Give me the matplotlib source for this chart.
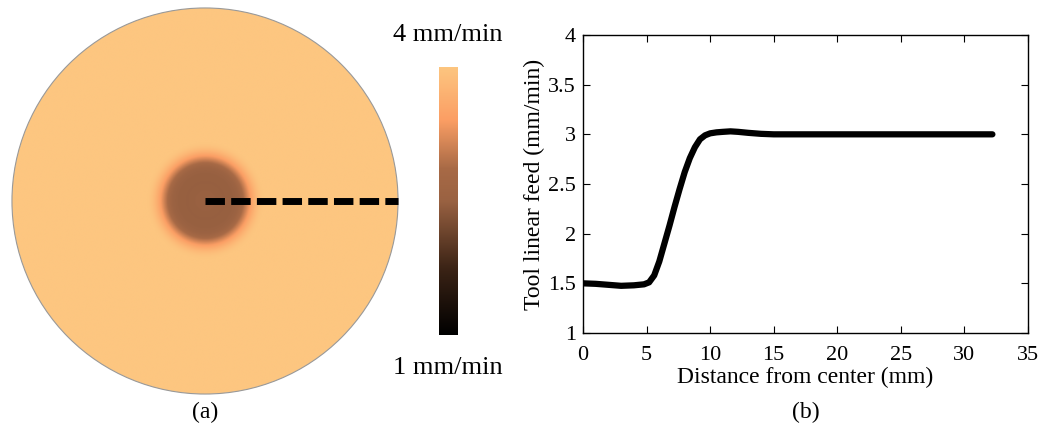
import numpy as np
import matplotlib
matplotlib.use("Agg")
import matplotlib.pyplot as plt
from matplotlib.colors import LinearSegmentedColormap, Normalize
from matplotlib.patches import Circle

plt.rcParams['font.family'] = ['Liberation Serif', 'DejaVu Serif']

# feed profile along the radius (mm -> mm/min)
dist = [0, 1, 2, 3, 4, 4.8, 5.2, 5.6, 6.0, 6.4, 6.8, 7.2, 7.6, 8.0, 8.4, 8.8,
        9.2, 9.6, 10.0, 10.5, 11.0, 11.6, 12.2, 13.0, 14.0, 15.0, 20.0, 25.0, 32.2]
feed = [1.50, 1.495, 1.485, 1.475, 1.48, 1.49, 1.51, 1.58, 1.72, 1.90, 2.08, 2.27,
        2.45, 2.62, 2.76, 2.87, 2.95, 2.99, 3.01, 3.02, 3.025, 3.03, 3.025, 3.015,
        3.005, 3.0, 3.0, 3.0, 3.0]
x_ticks = [0, 5, 10, 15, 20, 25, 30, 35]
y_ticks = [1, 1.5, 2, 2.5, 3, 3.5, 4]
y_ticklabels = ['1', '1.5', '2', '2.5', '3', '3.5', '4']
cbar_min, cbar_max = 1, 4

cmap = LinearSegmentedColormap.from_list(
    'feed', [(0.0, '#000000'), (0.25, '#3c2416'), (0.5, '#9a6242'),
             (0.62, '#a86a46'), (0.8, '#fb9e64'), (1.0, '#fdc680')])

fig = plt.figure(figsize=(10.42, 4.33), dpi=100)

# (a) disc map
R = dist[-1]
axd = fig.add_axes([11 / 1042, 38 / 433, 388 / 1042, 388 / 433])
g = np.linspace(-R, R, 600)
xx, yy = np.meshgrid(g, g)
rr = np.hypot(xx, yy)
img = np.interp(rr, dist, feed)
im = axd.imshow(img, cmap=cmap, norm=Normalize(0, 3), extent=[-R, R, -R, R],
                origin='lower', interpolation='bilinear')
circ = Circle((0, 0), R, transform=axd.transData, facecolor='none',
              edgecolor='#999999', linewidth=0.8)
axd.add_patch(circ)
im.set_clip_path(circ)
axd.plot([0, R], [0, 0], color='black', linewidth=5, dashes=(2.8, 0.9),
         solid_capstyle='butt', dash_capstyle='butt')
axd.set_xlim(-R * 1.005, R * 1.005)
axd.set_ylim(-R * 1.005, R * 1.005)
axd.axis('off')

# colour bar
axc = fig.add_axes([439 / 1042, 98 / 433, 19 / 1042, 268 / 433])
grad = np.linspace(cbar_min, cbar_max, 256).reshape(-1, 1)
axc.imshow(grad, cmap=cmap, aspect='auto', origin='lower',
           norm=Normalize(cbar_min, cbar_max))
axc.axis('off')
fig.text(448 / 1042, 1 - 35 / 433, f'{cbar_max} mm/min', ha='center', va='center', fontsize=19)
fig.text(448 / 1042, 1 - 368 / 433, f'{cbar_min} mm/min', ha='center', va='center', fontsize=19)

# (b) profile
ax = fig.add_axes([583 / 1042, 100 / 433, 445 / 1042, 298 / 433])
ax.plot(dist, feed, color='black', linewidth=4.5, solid_capstyle='round')
ax.set_xlim(0, 35)
ax.set_ylim(1, 4)
ax.set_xticks(x_ticks)
ax.set_yticks(y_ticks)
ax.set_yticklabels(y_ticklabels)
ax.tick_params(direction='in', top=True, right=True, labelsize=16, length=5)
ax.tick_params(axis='x', pad=9)
ax.tick_params(axis='y', pad=5)
for s in ax.spines.values():
    s.set_linewidth(1.0)
ax.set_xlabel('Distance from center (mm)', fontsize=17, labelpad=2)
ax.set_ylabel('Tool linear feed (mm/min)', fontsize=17, labelpad=2)

fig.text(205 / 1042, 1 - 412 / 433, '(a)', ha='center', va='center', fontsize=17)
fig.text(806 / 1042, 1 - 412 / 433, '(b)', ha='center', va='center', fontsize=17)

fig.savefig('out.png', dpi=100)
